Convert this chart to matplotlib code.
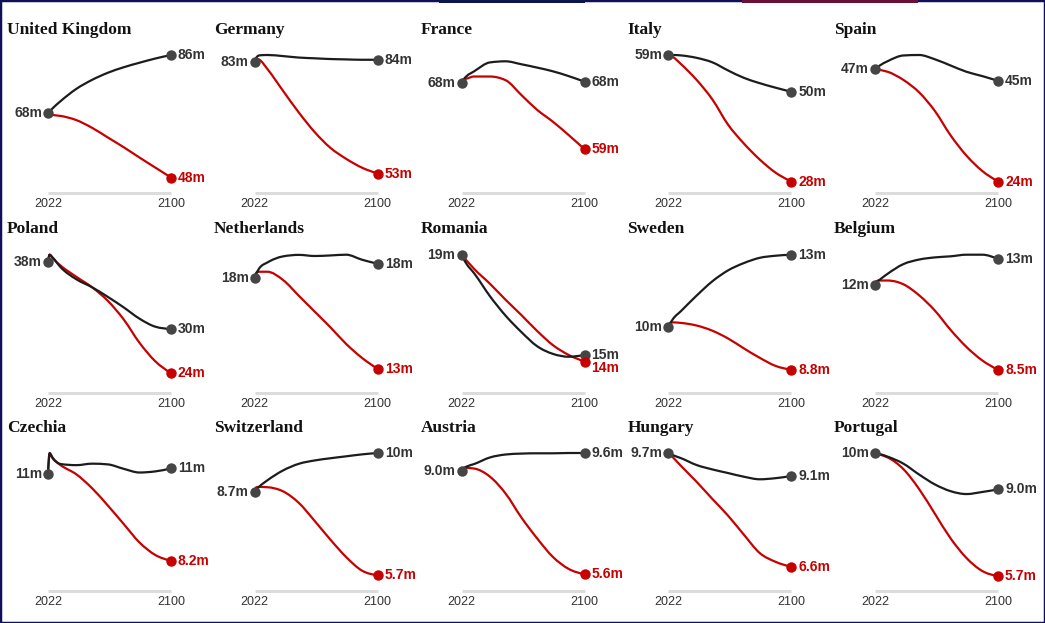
import matplotlib
matplotlib.use('Agg')
import matplotlib.pyplot as plt
import matplotlib.patches as patches
from matplotlib.path import Path
import numpy as np

W, H = 1045, 623

YEARS = [2022, 2023, 2025, 2030, 2040, 2050, 2060, 2070, 2080, 2090, 2100]

COUNTRIES = ["United Kingdom", "Germany", "France", "Italy", "Spain",
             "Poland", "Netherlands", "Romania", "Sweden", "Belgium",
             "Czechia", "Switzerland", "Austria", "Hungary", "Portugal"]

# population in millions, projection with migration
WITH_MIGRATION = [
    [68.0, 68.5, 69.5, 71.7, 75.5, 78.3, 80.5, 82.2, 83.6, 84.9, 86.0],
    [83.3, 84.6, 85.2, 85.3, 85.0, 84.6, 84.4, 84.2, 84.1, 84.0, 84.0],
    [67.9, 68.3, 68.8, 69.5, 70.7, 70.85, 70.45, 70.0, 69.5, 68.85, 68.1],
    [59.0, 59.0, 59.0, 58.9, 58.3, 57.2, 55.2, 53.4, 52.1, 51.0, 50.0],
    [47.4, 47.7, 48.2, 49.1, 50.3, 50.4, 49.5, 48.2, 46.9, 46.0, 45.0],
    [38.0, 38.96, 38.6, 37.4, 35.9, 34.9, 33.7, 32.4, 31.0, 30.0, 29.7],
    [17.72, 17.95, 18.25, 18.55, 18.88, 18.96, 18.9, 18.93, 18.97, 18.7, 18.48],
    [19.2, 19.05, 18.8, 18.35, 17.3, 16.4, 15.65, 15.0, 14.65, 14.52, 14.6],
    [10.43, 10.55, 10.75, 11.05, 11.65, 12.2, 12.62, 12.9, 13.1, 13.18, 13.22],
    [11.65, 11.75, 11.85, 12.07, 12.43, 12.6, 12.68, 12.72, 12.78, 12.78, 12.62],
    [10.57, 11.13, 11.0, 10.83, 10.8, 10.84, 10.82, 10.7, 10.6, 10.63, 10.71],
    [8.7, 8.78, 8.9, 9.12, 9.48, 9.72, 9.84, 9.92, 9.99, 10.06, 10.11],
    [9.03, 9.12, 9.18, 9.27, 9.49, 9.59, 9.62, 9.63, 9.63, 9.64, 9.64],
    [9.72, 9.7, 9.66, 9.58, 9.39, 9.27, 9.17, 9.07, 9.0, 9.03, 9.09],
    [10.44, 10.43, 10.4, 10.3, 10.03, 9.61, 9.23, 8.97, 8.86, 8.94, 9.04],
]

# population in millions, projection without migration
NO_MIGRATION = [
    [68.0, 67.6, 67.4, 67.1, 65.8, 63.4, 60.4, 57.4, 54.2, 51.1, 48.0],
    [83.3, 84.3, 84.0, 81.5, 75.5, 69.6, 64.3, 60.0, 57.0, 54.6, 53.0],
    [67.9, 68.4, 68.5, 68.8, 68.8, 68.3, 66.3, 64.3, 62.7, 60.9, 59.0],
    [59.0, 58.9, 58.5, 56.8, 52.9, 48.1, 41.9, 37.3, 33.4, 30.2, 28.0],
    [47.4, 47.5, 47.3, 46.9, 45.2, 42.6, 38.7, 33.6, 29.4, 26.2, 24.0],
    [38.0, 38.96, 38.5, 37.6, 36.2, 34.9, 33.2, 30.9, 28.0, 25.7, 24.2],
    [17.72, 18.0, 18.05, 18.05, 17.6, 16.75, 15.9, 15.05, 14.15, 13.4, 12.8],
    [19.2, 19.1, 18.95, 18.55, 17.87, 17.13, 16.43, 15.7, 15.05, 14.6, 14.3],
    [10.43, 10.6, 10.62, 10.6, 10.5, 10.3, 10.0, 9.62, 9.26, 8.95, 8.8],
    [11.65, 11.8, 11.82, 11.82, 11.68, 11.27, 10.7, 9.98, 9.35, 8.85, 8.5],
    [10.57, 11.1, 10.98, 10.8, 10.55, 10.17, 9.7, 9.2, 8.7, 8.36, 8.2],
    [8.7, 8.87, 8.88, 8.87, 8.72, 8.3, 7.65, 6.97, 6.34, 5.85, 5.68],
    [9.03, 9.12, 9.14, 9.12, 8.85, 8.28, 7.48, 6.78, 6.16, 5.76, 5.58],
    [9.72, 9.69, 9.6, 9.37, 8.93, 8.46, 8.0, 7.48, 6.98, 6.74, 6.6],
    [10.44, 10.42, 10.38, 10.27, 9.82, 9.05, 8.1, 7.15, 6.4, 5.9, 5.7],
]

# panels whose y scale has extra headroom above the data
Y_TOP = {"France": 71.7}

BLACK = '#1c1c1c'
DOT = '#454545'
RED = '#c70000'
TEXT = '#333333'
GRID = '#dcdcdc'
SANS = 'Liberation Sans'
SERIF = 'Liberation Serif'


def monotone_path(xs, ys):
    # cubic bezier path with monotone-x tangents (like d3.curveMonotoneX)
    x = np.asarray(xs, float)
    y = np.asarray(ys, float)
    h = np.diff(x)
    s = np.diff(y) / h
    t = np.zeros(len(x))
    for i in range(1, len(x) - 1):
        p = (s[i-1] * h[i] + s[i] * h[i-1]) / (h[i-1] + h[i])
        t[i] = (np.sign(s[i-1]) + np.sign(s[i])) * min(abs(s[i-1]), abs(s[i]), 0.5 * abs(p))
    t[0] = (3 * s[0] - t[1]) / 2
    t[-1] = (3 * s[-1] - t[-2]) / 2
    verts = [(x[0], y[0])]
    codes = [Path.MOVETO]
    for i in range(len(x) - 1):
        d = h[i] / 3
        verts += [(x[i] + d, y[i] + t[i] * d),
                  (x[i+1] - d, y[i+1] - t[i+1] * d),
                  (x[i+1], y[i+1])]
        codes += [Path.CURVE4] * 3
    return Path(verts, codes)


def fmt(v):
    return f"{v:.0f}m" if v >= 10 else f"{v:.1f}m"


fig = plt.figure(figsize=(W / 100, H / 100), dpi=100)
fig.patch.set_facecolor('white')

ROW_TOP = [55, 254.7, 453]
PLOT_H = 138
COL_X = [48 + c * 206.75 for c in range(5)]
PLOT_W = 123

for i, name in enumerate(COUNTRIES):
    r, c = divmod(i, 5)
    x0, top = COL_X[c], ROW_TOP[r]
    ax = fig.add_axes([x0 / W, 1 - (top + PLOT_H) / H, PLOT_W / W, PLOT_H / H])
    black = WITH_MIGRATION[i]
    red = NO_MIGRATION[i]
    lo = 0.9 * min(min(black), min(red))
    hi = max(max(black), max(red), Y_TOP.get(name, 0))
    ax.set_xlim(YEARS[0], YEARS[-1])
    ax.set_ylim(lo, hi)
    ax.axis('off')

    # baseline
    ax.plot([YEARS[0], YEARS[-1]], [lo, lo], color=GRID, lw=2.2,
            solid_capstyle='butt', clip_on=False, zorder=0)

    ax.add_patch(patches.PathPatch(monotone_path(YEARS, red), facecolor='none',
                                   edgecolor=RED, lw=1.6, clip_on=False, zorder=2,
                                   capstyle='round', joinstyle='round'))
    ax.add_patch(patches.PathPatch(monotone_path(YEARS, black), facecolor='none',
                                   edgecolor=BLACK, lw=1.6, clip_on=False, zorder=3,
                                   capstyle='round', joinstyle='round'))

    ax.plot(YEARS[0], black[0], 'o', ms=7.5, color=DOT, mec='none', clip_on=False, zorder=5)
    ax.plot(YEARS[-1], black[-1], 'o', ms=7.5, color=DOT, mec='none', clip_on=False, zorder=5)
    ax.plot(YEARS[-1], red[-1], 'o', ms=7.5, color=RED, mec='none', clip_on=False, zorder=5)

    ax.annotate(fmt(black[0]), (YEARS[0], black[0]), xytext=(-6, 0),
                textcoords='offset pixels', ha='right', va='center',
                fontsize=10, fontweight='bold', family=SANS, color=TEXT)

    # end labels, nudging the red one down if they would collide
    yb = ax.transData.transform((YEARS[-1], black[-1]))[1]
    yr = ax.transData.transform((YEARS[-1], red[-1]))[1]
    shift = 0
    if yb > yr and yb - yr < 13:
        shift = (yb - 13) - yr
    ax.annotate(fmt(black[-1]), (YEARS[-1], black[-1]), xytext=(7, 0),
                textcoords='offset pixels', ha='left', va='center',
                fontsize=10, fontweight='bold', family=SANS, color=TEXT)
    ax.annotate(fmt(red[-1]), (YEARS[-1], red[-1]), xytext=(7, shift),
                textcoords='offset pixels', ha='left', va='center',
                fontsize=10, fontweight='bold', family=SANS, color=RED)

    # year ticks
    for yr_ in (YEARS[0], YEARS[-1]):
        ax.annotate(str(yr_), (yr_, lo), xytext=(0, -11), textcoords='offset pixels',
                    ha='center', va='center', fontsize=9, family=SANS, color=TEXT)

    fig.text((x0 - 41) / W, 1 - (top - 25.5) / H, name, ha='left', va='center',
             fontsize=12.5, fontweight='bold', family=SERIF, color='#121212')

# frame and the cut-off legend strips at the top edge
fig.patches.append(patches.Rectangle((0, 0), 1, 1, transform=fig.transFigure,
                                     fill=False, edgecolor='#10105a', lw=2.5))
fig.patches.append(patches.Rectangle((439 / W, 1 - 2.5 / H), 146 / W, 2.5 / H,
                                     transform=fig.transFigure, color='#0d1450', lw=0))
fig.patches.append(patches.Rectangle((742 / W, 1 - 2.5 / H), 176 / W, 2.5 / H,
                                     transform=fig.transFigure, color='#6b1034', lw=0))

plt.savefig('out.png', dpi=100, facecolor='white')
plt.close()
